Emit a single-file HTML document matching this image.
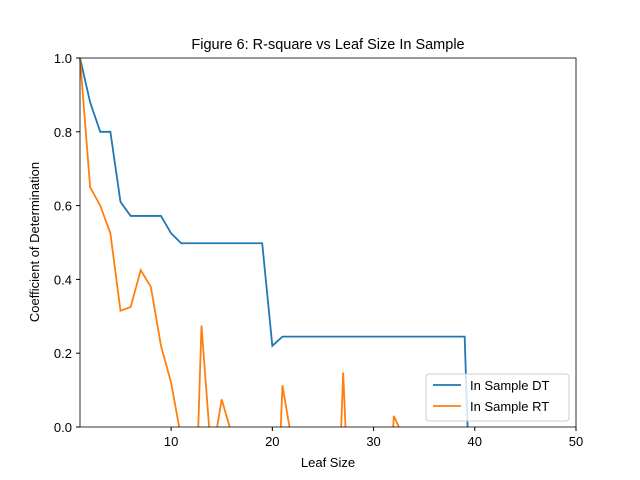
<!DOCTYPE html>
<html><head><meta charset="utf-8"><style>html,body{margin:0;padding:0;width:640px;height:480px;overflow:hidden;background:#fff}svg{display:block;font-family:"Liberation Sans","DejaVu Sans",sans-serif}</style></head>
<body>
<svg id="chart" width="640" height="480">
<rect x="0" y="0" width="640" height="480" fill="#fff"/>
<text x="328" y="49" text-anchor="middle" font-size="14.5">Figure 6: R-square vs Leaf Size In Sample</text>
<g id="marks"></g>
<rect x="80" y="58" width="496" height="369" fill="none" stroke="#000" stroke-width="0.8"/>
<g id="axes"></g>
<text x="328" y="467" text-anchor="middle" font-size="13">Leaf Size</text>
<text transform="translate(39,242) rotate(-90)" text-anchor="middle" font-size="13">Coefficient of Determination</text>
<g>
<rect x="426" y="374" width="143" height="47" rx="3" fill="#fff" fill-opacity="0.8" stroke="#ccc"/>
<line x1="433" y1="385" x2="461" y2="385" stroke="#1f77b4" stroke-width="1.8"/>
<text x="470" y="390" font-size="13">In Sample DT</text>
<line x1="433" y1="406" x2="461" y2="406" stroke="#ff7f0e" stroke-width="1.8"/>
<text x="470" y="411" font-size="13">In Sample RT</text>
</g>
</svg>
<script>
const leafSizes = Array.from({length:50},(_,i)=>i+1);
const dtValues = [1.0,0.88,0.8,0.8,0.61,0.572,0.572,0.572,0.572,0.525,0.498,0.498,0.498,0.498,0.498,0.498,0.498,0.498,0.498,0.22,0.245,0.245,0.245,0.245,0.245,0.245,0.245,0.245,0.245,0.245,0.245,0.245,0.245,0.245,0.245,0.245,0.245,0.245,0.245,-0.6,-0.6,-0.6,-0.6,-0.6,-0.6,-0.6,-0.6,-0.6,-0.6,-0.6];
const rtValues = [1.0,0.65,0.6,0.525,0.315,0.325,0.425,0.38,0.22,0.12,-0.03,-0.6,0.275,-0.09,0.075,-0.02,-0.5,-0.5,-0.5,-0.6,0.113,-0.05,-0.5,-0.5,-0.5,-0.6,0.148,-0.5,-0.5,-0.5,-0.5,0.03,-0.03,-0.5,-0.5,-0.5,-0.5,-0.5,-0.5,-0.5,-0.5,-0.5,-0.5,-0.5,-0.5,-0.5,-0.5,-0.5,-0.5,-0.5];
const xTicks = [10,20,30,40,50];
const yTicks = [0,0.2,0.4,0.6,0.8,1.0];
const NS='http://www.w3.org/2000/svg';
const xs = v => 80 + (v-1)/49*496;
const ys = v => 427 - v*369;
const marks=document.getElementById('marks'), axes=document.getElementById('axes');
function line(vals,color,name){
  const g=document.createElementNS(NS,'g');
  
  
  marks.appendChild(g);
  let segs=[], cur=[];
  for(let i=0;i<vals.length;i++){
    const x=leafSizes[i], v=vals[i];
    if(v>=0){
      if(cur.length===0 && i>0 && vals[i-1]<0){
        const px=leafSizes[i-1], pv=vals[i-1];
        cur.push([px+(x-px)*(-pv)/(v-pv),0]);
      }
      cur.push([x,v]);
    } else if(i>0 && vals[i-1]>=0){
      const px=leafSizes[i-1], pv=vals[i-1];
      cur.push([px+(x-px)*pv/(pv-v),0]);
      segs.push(cur); cur=[];
    }
  }
  if(cur.length) segs.push(cur);
  segs.forEach(s=>{
    const p=document.createElementNS(NS,'polyline');
    p.setAttribute('points',s.map(q=>xs(q[0])+','+ys(q[1])).join(' '));
    p.setAttribute('fill','none');p.setAttribute('stroke',color);p.setAttribute('stroke-width','1.8');
    
    
    g.appendChild(p);
  });
}
line(dtValues,'#1f77b4','series-in-sample-dt');
line(rtValues,'#ff7f0e','series-in-sample-rt');
xTicks.forEach(t=>{
  const l=document.createElementNS(NS,'line');
  l.setAttribute('x1',xs(t));l.setAttribute('x2',xs(t));l.setAttribute('y1',427);l.setAttribute('y2',431);l.setAttribute('stroke','#000');
  
  
  axes.appendChild(l);
  const tx=document.createElementNS(NS,'text');
  tx.setAttribute('x',xs(t));tx.setAttribute('y',446);tx.setAttribute('text-anchor','middle');tx.setAttribute('font-size','13');
  tx.textContent=t;
  
  
  axes.appendChild(tx);
});
yTicks.forEach(t=>{
  const l=document.createElementNS(NS,'line');
  l.setAttribute('x1',76);l.setAttribute('x2',80);l.setAttribute('y1',ys(t));l.setAttribute('y2',ys(t));l.setAttribute('stroke','#000');
  
  
  axes.appendChild(l);
  const tx=document.createElementNS(NS,'text');
  tx.setAttribute('x',72);tx.setAttribute('y',ys(t)+5);tx.setAttribute('text-anchor','end');tx.setAttribute('font-size','13');
  tx.textContent=t.toFixed(1);
  
  
  axes.appendChild(tx);
});
</script>
</body></html>
